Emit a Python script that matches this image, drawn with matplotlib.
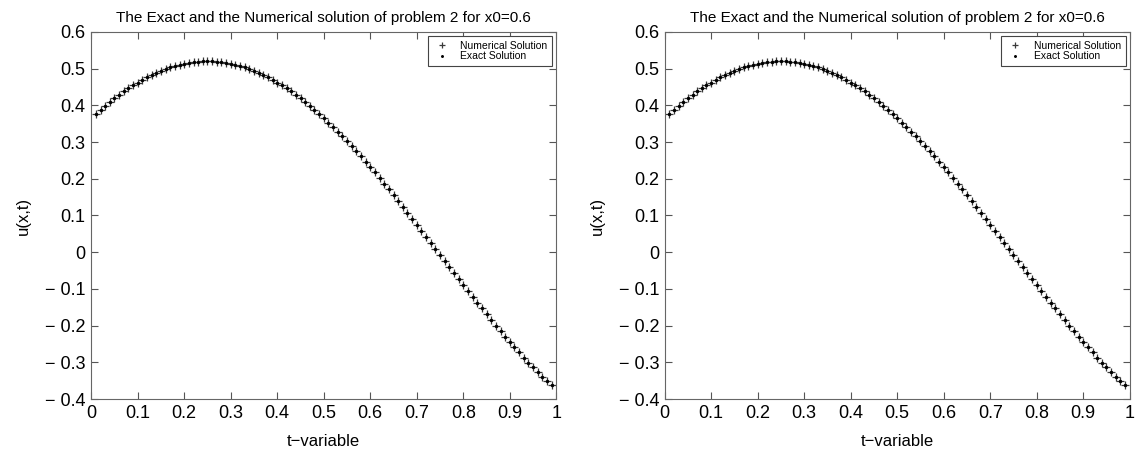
import numpy as np
import matplotlib
matplotlib.use('Agg')
import matplotlib.pyplot as plt

plt.rcParams['font.family'] = ['Liberation Sans', 'DejaVu Sans']

# t-grid (0.01 .. 0.99)
t = np.arange(1, 100) / 100

# values
u_exact = [0.377, 0.388, 0.399, 0.409, 0.419, 0.428, 0.438, 0.446, 0.455, 0.462,
           0.470, 0.476, 0.483, 0.489, 0.494, 0.499, 0.503, 0.507, 0.511, 0.513,
           0.516, 0.518, 0.519, 0.520, 0.520, 0.520, 0.519, 0.518, 0.516, 0.513,
           0.511, 0.507, 0.503, 0.499, 0.494, 0.489, 0.483, 0.476, 0.470, 0.462,
           0.455, 0.446, 0.438, 0.428, 0.419, 0.409, 0.399, 0.388, 0.377, 0.365,
           0.353, 0.341, 0.328, 0.315, 0.302, 0.289, 0.275, 0.261, 0.246, 0.231,
           0.217, 0.201, 0.186, 0.171, 0.155, 0.139, 0.123, 0.107, 0.091, 0.075,
           0.058, 0.042, 0.026, 0.009, -0.007, -0.024, -0.040, -0.057, -0.073, -0.089,
           -0.106, -0.122, -0.138, -0.153, -0.169, -0.185, -0.200, -0.215, -0.230, -0.245,
           -0.259, -0.273, -0.287, -0.301, -0.314, -0.327, -0.340, -0.352, -0.362]
u_numerical = list(u_exact)

xticks = [0, 0.1, 0.2, 0.3, 0.4, 0.5, 0.6, 0.7, 0.8, 0.9, 1]
xticklabels = ['0', '0.1', '0.2', '0.3', '0.4', '0.5', '0.6', '0.7', '0.8', '0.9', '1']
yticks = [-0.4, -0.3, -0.2, -0.1, 0, 0.1, 0.2, 0.3, 0.4, 0.5, 0.6]
yticklabels = ['\u2212 0.4', '\u2212 0.3', '\u2212 0.2', '\u2212 0.1', '0',
               '0.1', '0.2', '0.3', '0.4', '0.5', '0.6']

title = 'The Exact and the Numerical solution of problem 2 for x0=0.6'

fig = plt.figure(figsize=(11.4, 4.55), dpi=100)
lefts = [0.080, 0.583]

for left in lefts:
    ax = fig.add_axes([left, 0.123, 0.408, 0.807])
    ax.plot(t, u_numerical, '+', color='#3a3a3a', ms=5.5, mew=0.9, label='Numerical Solution')
    ax.plot(t, u_exact, '.', color='black', ms=3, label='Exact Solution')
    ax.set_xlim(0, 1)
    ax.set_ylim(-0.4, 0.6)
    ax.set_xticks(xticks)
    ax.set_xticklabels(xticklabels)
    ax.set_yticks(yticks)
    ax.set_yticklabels(yticklabels)
    ax.tick_params(direction='in', length=5, width=0.8, top=True, right=True,
                   labelsize=13, colors='#555555', labelcolor='black', pad=4)
    for s in ax.spines.values():
        s.set_color('#666666')
        s.set_linewidth(0.8)
    ax.set_title(title, fontsize=11, pad=7)
    ax.set_xlabel('t\u2212variable', fontsize=12, labelpad=9)
    ax.set_ylabel('u(x,t)', fontsize=12, labelpad=10)
    leg = ax.legend(loc='upper right', fontsize=7.5, fancybox=False, framealpha=1,
                    edgecolor='#444444', borderpad=0.45, labelspacing=0.05,
                    handletextpad=0.9, borderaxespad=0.4, handlelength=1.8,
                    markerscale=0.75)
    leg.get_frame().set_linewidth(0.8)

fig.savefig('out.png', dpi=100)
